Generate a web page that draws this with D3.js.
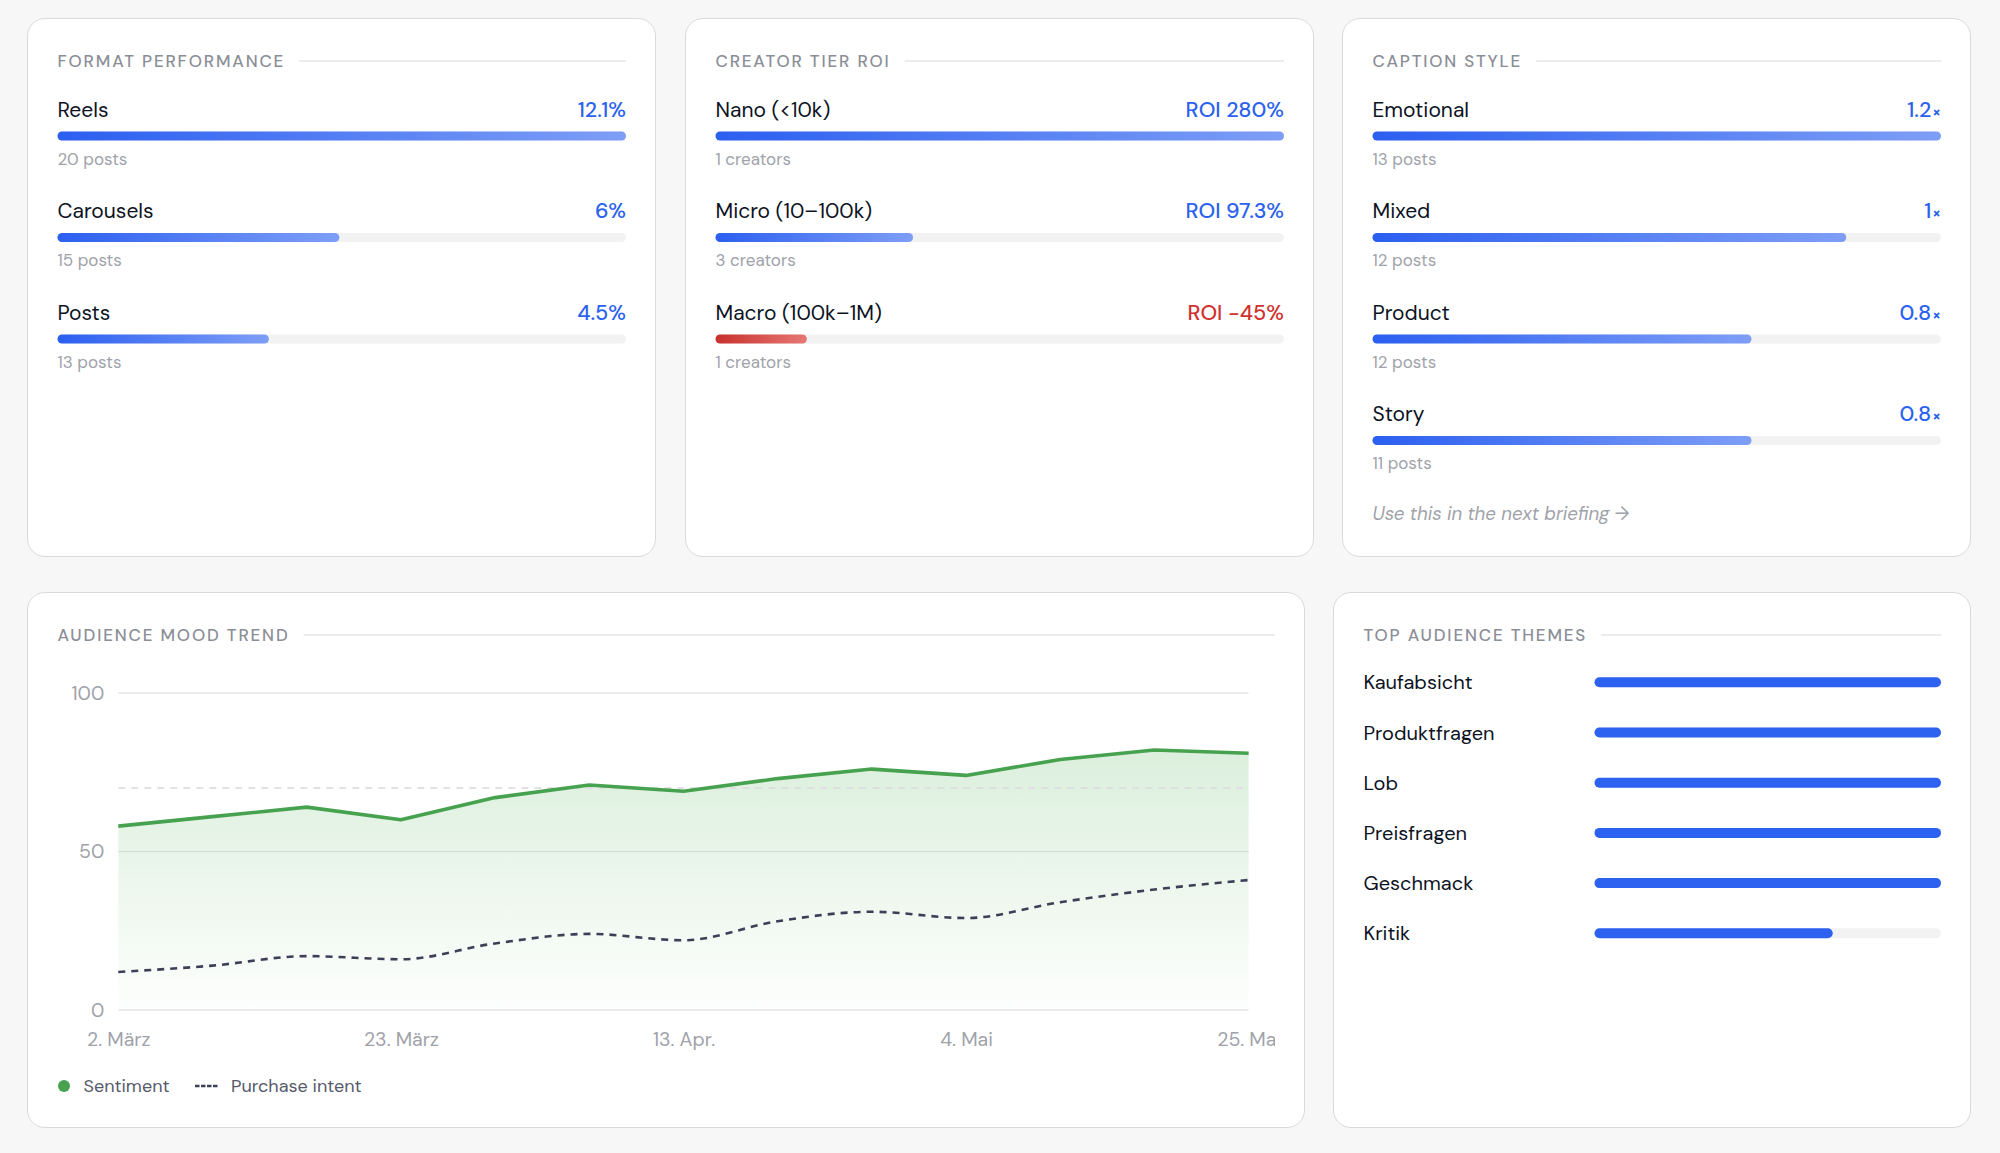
<!DOCTYPE html>
<html>
<head>
<meta charset="utf-8">
<script src="https://cdn.jsdelivr.net/npm/d3@7"></script>
<style>
  body { margin: 0; width: 2000px; height: 1153px; background: #f7f7f7; font-family: "DM Sans", Inter, sans-serif; position: relative; overflow: hidden; }
  .card { position: absolute; background: #fff; border: 1.5px solid #dadadc; border-radius: 18px; box-sizing: border-box; }
  .card svg { position: absolute; left: -1.5px; top: -1.5px; }
</style>
</head>
<body>
<script>
// Format performance
const formatLabels = ['Reels', 'Carousels', 'Posts'];
const formatRates = [12.1, 6, 4.5];
const formatPosts = [20, 15, 13];

// Creator tier ROI
const tierLabels = ['Nano (<10k)', 'Micro (10–100k)', 'Macro (100k–1M)'];
const tierRoi = [280, 97.3, -45];
const tierCreators = [1, 3, 1];

// Caption style
const captionLabels = ['Emotional', 'Mixed', 'Product', 'Story'];
const captionLift = [1.2, 1, 0.8, 0.8];
const captionPosts = [13, 12, 12, 11];

// Audience mood trend (weekly)
const trendDates = ['2025-03-02', '2025-03-09', '2025-03-16', '2025-03-23', '2025-03-30', '2025-04-06', '2025-04-13',
                    '2025-04-20', '2025-04-27', '2025-05-04', '2025-05-11', '2025-05-18', '2025-05-25'];
const sentiment = [58, 61, 64, 60, 67, 71, 69, 73, 76, 74, 79, 82, 81];
const purchaseIntent = [12, 14, 17, 16, 21, 24, 22, 28, 31, 29, 34, 38, 41];
const xTickDates = ['2025-03-02', '2025-03-23', '2025-04-13', '2025-05-04', '2025-05-25'];
const xTickLabels = ['2. März', '23. März', '13. Apr.', '4. Mai', '25. Mai'];
const yTicks = [0, 50, 100];
const sentimentTarget = 70;

// Top audience themes
const themeLabels = ['Kaufabsicht', 'Produktfragen', 'Lob', 'Preisfragen', 'Geschmack', 'Kritik'];
const themeCounts = [16, 16, 16, 16, 16, 11];

const parseDate = d3.timeParse('%Y-%m-%d');
const BLUE = '#2b62ef', RED = '#d0332f', INK = '#0c1324', MUTED = '#a0a2aa', TITLE = '#8b8e97';

function card(x, y, w, h) {
    const div = d3.select('body').append('div').attr('class', 'card')
        .style('left', x + 'px').style('top', y + 'px')
        .style('width', w + 'px').style('height', h + 'px');
    return div.append('svg').attr('width', w).attr('height', h);
}

function cardTitle(svg, text, right) {
    const t = svg.append('text')
        .attr('x', 30.5).attr('y', 48.5)
        .attr('font-size', 17).attr('font-weight', 500)
        .attr('letter-spacing', '1.85px')
        .attr('fill', TITLE).text(text);
    const end = 30.5 + t.node().getComputedTextLength();
    svg.append('line')
        .attr('x1', end + 14).attr('x2', right)
        .attr('y1', 43).attr('y2', 43)
        .attr('stroke', '#e6e6e8').attr('stroke-width', 1.5);
}

let gradId = 0;
function gradient(svg, from, to) {
    const id = 'g' + (gradId++);
    const g = svg.append('defs').append('linearGradient').attr('id', id);
    g.append('stop').attr('offset', '0%').attr('stop-color', from);
    g.append('stop').attr('offset', '100%').attr('stop-color', to);
    return `url(#${id})`;
}

function barCard(svg, w, title, labels, values, subs, fmt, colorFn) {
    const left = 30.5, right = w - 30;
    cardTitle(svg, title, right);
    const x = d3.scaleLinear().domain([0, d3.max(values, v => Math.abs(v))]).range([0, right - left]);
    const rowY = d3.scaleLinear().domain([0, 1]).range([0, 101.5]);

    const rows = svg.selectAll('g.row').data(labels).enter().append('g')
        .attr('transform', (d, i) => `translate(0,${rowY(i)})`);

    rows.append('text').attr('x', left).attr('y', 98.5)
        .attr('font-size', 21).attr('fill', INK).text(d => d);

    rows.each(function (d, i) {
        const g = d3.select(this);
        const v = values[i];
        const c = colorFn(v);
        const t = g.append('text').attr('x', right).attr('y', 98.5)
            .attr('text-anchor', 'end').attr('font-size', 21.5).attr('font-weight', 500).attr('fill', c.text);
        fmt(t, v);
        g.append('rect').attr('x', left).attr('y', 113.5)
            .attr('width', right - left).attr('height', 9).attr('rx', 4.5)
            .attr('fill', '#f2f2f3');
        g.append('rect').attr('x', left).attr('y', 113.5)
            .attr('width', x(Math.abs(v))).attr('height', 9).attr('rx', 4.5)
            .attr('fill', gradient(svg, c.from, c.to));
        g.append('text').attr('x', left).attr('y', 146.5)
            .attr('font-size', 17).attr('fill', MUTED).text(subs[i]);
    });
}

const blueBar = () => ({ text: BLUE, from: '#2b5ff0', to: '#7e9ef6' });

// Top row
const TOP_W = 629, TOP_H = 539;
const c1 = card(27, 18, TOP_W, TOP_H);
barCard(c1, TOP_W, 'FORMAT PERFORMANCE', formatLabels, formatRates,
    formatPosts.map(n => `${n} posts`), (t, v) => t.text(`${v}%`), blueBar);

const c2 = card(685, 18, TOP_W, TOP_H);
barCard(c2, TOP_W, 'CREATOR TIER ROI', tierLabels, tierRoi,
    tierCreators.map(n => `${n} creators`), (t, v) => t.text(`ROI ${v}%`),
    v => v < 0 ? { text: RED, from: '#c9302c', to: '#e67874' } : blueBar());

const c3 = card(1342, 18, TOP_W, TOP_H);
barCard(c3, TOP_W, 'CAPTION STYLE', captionLabels, captionLift,
    captionPosts.map(n => `${n} posts`),
    (t, v) => { t.text(v); t.append('tspan').attr('font-size', 15).attr('font-weight', 700).attr('dx', 1).text('×'); }, blueBar);
c3.append('text').attr('x', 30.5).attr('y', 502)
    .attr('font-size', 18.7).attr('font-style', 'italic').attr('fill', MUTED)
    .text('Use this in the next briefing →');

// Audience mood trend
const TREND_W = 1278, BOT_H = 536;
const c4 = card(27, 592, TREND_W, BOT_H);
cardTitle(c4, 'AUDIENCE MOOD TREND', TREND_W - 30);

const dates = trendDates.map(parseDate);
const x = d3.scaleTime().domain(d3.extent(dates)).range([91.3, 1221.6]);
const y = d3.scaleLinear().domain([0, 100]).range([418, 101]);

c4.append('defs').append('clipPath').attr('id', 'plotclip')
    .append('rect').attr('x', 0).attr('y', 0).attr('width', TREND_W - 30).attr('height', BOT_H);
const plot = c4.append('g').attr('clip-path', 'url(#plotclip)');

plot.append('g').selectAll('line').data(yTicks).enter().append('line')
    .attr('x1', x.range()[0]).attr('x2', x.range()[1])
    .attr('y1', d => y(d)).attr('y2', d => y(d))
    .attr('stroke', '#e6e6e8').attr('stroke-width', 1.5);

const areaGrad = c4.append('defs').append('linearGradient').attr('id', 'moodArea')
    .attr('x1', 0).attr('y1', 0).attr('x2', 0).attr('y2', 1);
areaGrad.append('stop').attr('offset', '0%').attr('stop-color', '#4caf50').attr('stop-opacity', 0.2);
areaGrad.append('stop').attr('offset', '100%').attr('stop-color', '#4caf50').attr('stop-opacity', 0.01);

plot.append('path').datum(sentiment)
    .attr('fill', 'url(#moodArea)')
    .attr('d', d3.area().x((d, i) => x(dates[i])).y0(y(0)).y1(d => y(d)));

plot.append('line')
    .attr('x1', x.range()[0]).attr('x2', x.range()[1])
    .attr('y1', y(sentimentTarget)).attr('y2', y(sentimentTarget))
    .attr('stroke', '#d9d9dc').attr('stroke-width', 1.5).attr('stroke-dasharray', '7 6');

plot.append('path').datum(purchaseIntent)
    .attr('fill', 'none').attr('stroke', '#3c3f55').attr('stroke-width', 2.6)
    .attr('stroke-dasharray', '7 6')
    .attr('d', d3.line().x((d, i) => x(dates[i])).y(d => y(d)).curve(d3.curveMonotoneX));

plot.append('path').datum(sentiment)
    .attr('fill', 'none').attr('stroke', '#47a24f').attr('stroke-width', 3.6)
    .attr('stroke-linejoin', 'round')
    .attr('d', d3.line().x((d, i) => x(dates[i])).y(d => y(d)));

const yAxis = c4.append('g').attr('transform', `translate(${x.range()[0]},0)`)
    .call(d3.axisLeft(y).tickValues(yTicks).tickSize(0).tickPadding(14));
const xAxis = plot.append('g').attr('transform', `translate(0,${y(0)})`)
    .call(d3.axisBottom(x).tickValues(xTickDates.map(parseDate)).tickSize(0).tickPadding(22)
        .tickFormat((d, i) => xTickLabels[i]));
[yAxis, xAxis].forEach(a => {
    a.select('.domain').remove();
    a.selectAll('text').attr('font-family', '"DM Sans", Inter, sans-serif')
        .attr('font-size', 19.5).attr('fill', MUTED);
});

const legend = c4.append('g').attr('transform', 'translate(0,494)');
legend.append('circle').attr('cx', 37).attr('cy', 0).attr('r', 6).attr('fill', '#47a24f');
legend.append('text').attr('x', 56.5).attr('y', 6).attr('font-size', 18).attr('fill', '#555a6b').text('Sentiment');
legend.append('line').attr('x1', 168).attr('x2', 191).attr('y1', 0).attr('y2', 0)
    .attr('stroke', '#3c3f55').attr('stroke-width', 2.5).attr('stroke-dasharray', '4.5 1.5');
legend.append('text').attr('x', 204).attr('y', 6).attr('font-size', 18).attr('fill', '#555a6b').text('Purchase intent');

// Top audience themes
const THEME_W = 638;
const c5 = card(1333, 592, THEME_W, BOT_H);
cardTitle(c5, 'TOP AUDIENCE THEMES', THEME_W - 30);
const tx = d3.scaleLinear().domain([0, d3.max(themeCounts)]).range([0, 608 - 261.5]);
const ty = d3.scaleBand().domain(themeLabels).range([65.2, 65.2 + 50.2 * themeLabels.length]);

const themeRows = c5.selectAll('g.theme').data(themeLabels).enter().append('g')
    .attr('transform', d => `translate(0,${ty(d) + ty.bandwidth() / 2})`);
themeRows.append('text').attr('x', 30.5).attr('y', 7).attr('font-size', 20).attr('fill', INK).text(d => d);
themeRows.append('rect').attr('x', 261.5).attr('y', -5).attr('width', tx.range()[1]).attr('height', 10)
    .attr('rx', 5).attr('fill', '#f2f2f3');
themeRows.append('rect').attr('x', 261.5).attr('y', -5).attr('width', (d, i) => tx(themeCounts[i])).attr('height', 10)
    .attr('rx', 5).attr('fill', '#2d62f0');
</script>
</body>
</html>
